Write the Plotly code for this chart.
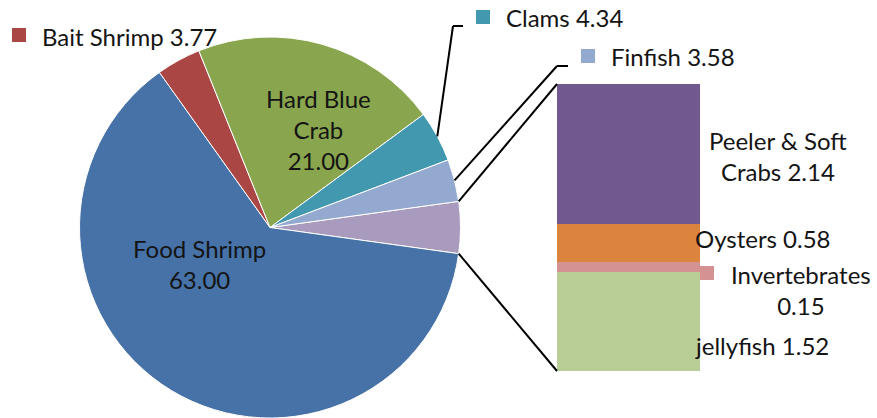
import math
import plotly.graph_objects as go

# ---------------- data ----------------
pie_labels = ["Food Shrimp", "Bait Shrimp", "Hard Blue Crab", "Clams", "Finfish"]
pie_values = [63.00, 3.77, 21.00, 4.34, 3.58]
bar_labels = ["Peeler & Soft Crabs", "Oysters", "Invertebrates", "jellyfish"]
bar_values = [2.14, 0.58, 0.15, 1.52]
other_label = "Other"

# ---------------- styles ----------------
pie_colors = {"Food Shrimp": "#4672A8", "Bait Shrimp": "#AA4643", "Hard Blue Crab": "#89A54E",
              "Clams": "#4198AF", "Finfish": "#93A9CF", other_label: "#A99BBD"}
bar_colors = {"Peeler & Soft Crabs": "#71588F", "Oysters": "#DB843D",
              "Invertebrates": "#D49293", "jellyfish": "#B9CD96"}
FONT = "Lato"
FS = 24
TXT = "#141414"
W, H = 877, 418

def fx(x):
    return x / W

def fy(y):
    return 1 - y / H

other_value = sum(bar_values)
total = sum(pie_values) + other_value
other_deg = other_value / total * 360

# pie geometry (pixels)
pie_cx, pie_top, pie_r = 270, 37, 190.5
pie_dom_x = [fx(pie_cx - pie_r), fx(pie_cx + pie_r)]
pie_dom_y = [fy(pie_top + 2 * pie_r), fy(pie_top)]
pie_cy = pie_top + pie_r

# bar geometry (pixels)
bar_x0, bar_x1, bar_top, bar_bot = 557, 700, 84, 371

# pie drawn clockwise starting at the top edge of the "Other" slice
order_cw = [other_label, "Food Shrimp", "Bait Shrimp", "Hard Blue Crab", "Clams", "Finfish"]
val_map = dict(zip(pie_labels, pie_values))
val_map[other_label] = other_value

fig = go.Figure()
fig.add_trace(go.Pie(
    labels=order_cw,
    values=[val_map[k] for k in order_cw],
    marker=dict(colors=[pie_colors[k] for k in order_cw], line=dict(color="white", width=1)),
    sort=False, direction="clockwise", rotation=90 - other_deg / 2,
    textinfo="none", showlegend=False,
    domain=dict(x=pie_dom_x, y=pie_dom_y),
))

for lab in reversed(bar_labels):
    v = bar_values[bar_labels.index(lab)]
    fig.add_trace(go.Bar(x=[0], y=[v], width=1, name=lab, marker=dict(color=bar_colors[lab], line=dict(width=0)),
                         showlegend=False, xaxis="x", yaxis="y"))

# slice angle helper (math angle, counterclockwise from 3 o'clock)
ccw_order = ["Finfish", "Clams", "Hard Blue Crab", "Bait Shrimp", "Food Shrimp"]
start = other_deg / 2
mid_angle = {}
for k in ccw_order:
    d = val_map[k] / total * 360
    mid_angle[k] = start + d / 2
    start += d

def edge_pt(deg):
    a = math.radians(deg)
    return pie_cx + pie_r * math.cos(a), pie_cy - pie_r * math.sin(a)

shapes = []
line_style = dict(color="black", width=2)

def seg(p, q):
    shapes.append(dict(type="line", xref="paper", yref="paper",
                       x0=fx(p[0]), y0=fy(p[1]), x1=fx(q[0]), y1=fy(q[1]), line=line_style))

# connectors from "Other" slice to bar
seg(edge_pt(other_deg / 2), (bar_x0, bar_top))
seg(edge_pt(-other_deg / 2), (bar_x0, bar_bot))

# leader lines
p = edge_pt(mid_angle["Clams"])
seg(p, (453, 26)); seg((453, 26), (463, 26))
p = edge_pt(mid_angle["Finfish"])
seg(p, (557, 66)); seg((557, 66), (568, 66))

def key(x0, y0, size, color):
    shapes.append(dict(type="rect", xref="paper", yref="paper", x0=fx(x0), x1=fx(x0 + size),
                       y0=fy(y0 + size), y1=fy(y0), fillcolor=color, line=dict(width=0)))

key(12, 28, 14, pie_colors["Bait Shrimp"])
key(476, 10, 14, pie_colors["Clams"])
key(581, 49, 14, pie_colors["Finfish"])
key(700, 266, 14, bar_colors["Invertebrates"])

def fmt(k):
    return f"{val_map[k]:.2f}" if k in val_map else f"{bar_values[bar_labels.index(k)]:.2f}"

annotations = []

def ann(text, x, y, xanchor="center"):
    annotations.append(dict(text=text, x=fx(x), y=fy(y), xref="paper", yref="paper", showarrow=False,
                            xanchor=xanchor, yanchor="middle", align="center",
                            font=dict(family=FONT, size=FS, color=TXT)))

ann(f"Bait Shrimp {fmt('Bait Shrimp')}", 40, 36, "left")
ann(f"Clams {fmt('Clams')}", 504, 17, "left")
ann(f"Finfish {fmt('Finfish')}", 609, 56, "left")
ann(f"Hard Blue<br>Crab<br>{fmt('Hard Blue Crab')}", 318, 129)
ann(f"Food Shrimp<br>{fmt('Food Shrimp')}", 199, 264)
ann(f"Peeler & Soft<br>Crabs {fmt('Peeler & Soft Crabs')}", 778, 156)
ann(f"Oysters {fmt('Oysters')}", 763, 238)
ann(f"Invertebrates<br>{fmt('Invertebrates')}", 801, 290)
ann(f"jellyfish {fmt('jellyfish')}", 762, 345)

fig.update_layout(
    width=W, height=H, margin=dict(l=0, r=0, t=0, b=0),
    paper_bgcolor="white", plot_bgcolor="rgba(0,0,0,0)",
    barmode="stack", bargap=0,
    xaxis=dict(domain=[fx(bar_x0), fx(bar_x1)], range=[-0.5, 0.5], visible=False, fixedrange=True),
    yaxis=dict(domain=[fy(bar_bot), fy(bar_top)], range=[0, other_value], visible=False, fixedrange=True),
    shapes=shapes, annotations=annotations,
    font=dict(family=FONT, size=FS, color=TXT),
)

fig.write_html("out.html", config={"displayModeBar": False},
               post_script="document.body.style.margin='0';document.body.style.overflow='hidden';")
